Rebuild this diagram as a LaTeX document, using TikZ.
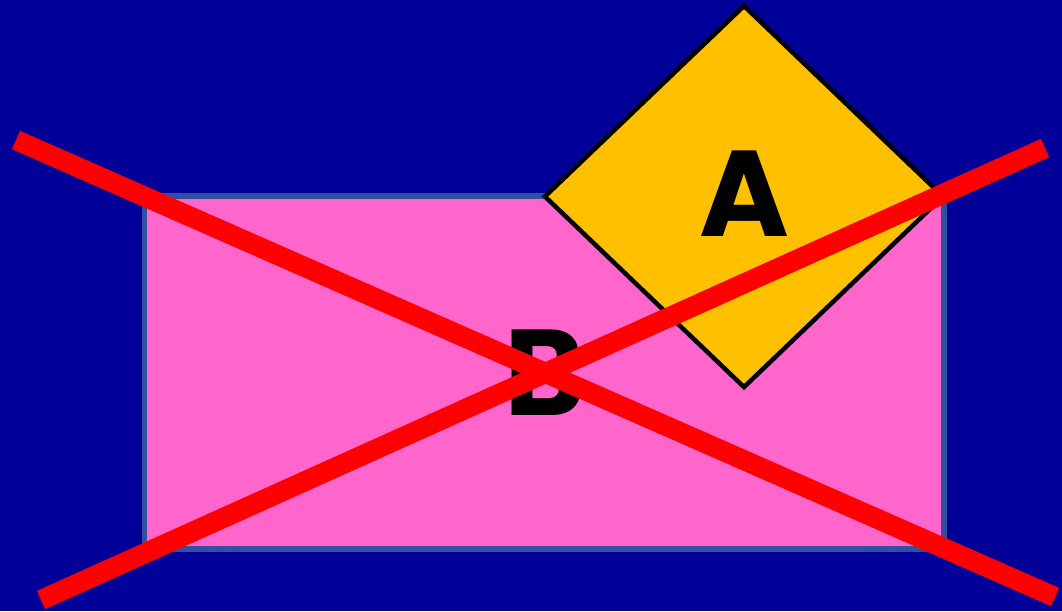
\documentclass[tikz,border=0pt]{standalone}
\usepackage{fontspec}
\usetikzlibrary{shapes.geometric}
\newfontfamily\popfont{Poppins}[BoldFont={* Bold}]
\definecolor{bgblue}{RGB}{0,0,153}
\definecolor{boxpink}{RGB}{255,102,204}
\definecolor{boxedge}{RGB}{48,80,160}
\definecolor{diayellow}{RGB}{255,192,0}
\definecolor{crossred}{RGB}{255,0,0}
\tikzset{
  lbl/.style={font=\popfont\bfseries\fontsize{122}{122}\selectfont, text=black},
  pinkbox/.style={draw=boxedge, fill=boxpink, line width=5.5pt, minimum width=799.5pt, minimum height=353pt, inner sep=0pt, lbl},
  yellowdia/.style={diamond, draw=black, fill=diayellow, line width=4.5pt, minimum width=400pt, minimum height=383pt, inner sep=0pt, lbl},
  crossline/.style={draw=crossred, line width=20pt, line cap=butt}
}
\begin{document}
\begin{tikzpicture}[x=1pt,y=-1pt]
\fill[bgblue] (0,0) rectangle (1062,611);
\useasboundingbox (0,0) rectangle (1062,611);
\node[pinkbox] (B) at (544.25,372.5) {B};
\node[yellowdia] (A) at (744,196.5) {\raisebox{5pt}{A}};
\coordinate (l1s) at (16,140);
\coordinate (l1e) at (1055,597);
\coordinate (l2s) at (41,600);
\coordinate (l2e) at (1045,148);
\draw[crossline] (l1s) -- (l1e);
\draw[crossline] (l2s) -- (l2e);
\end{tikzpicture}
\end{document}
